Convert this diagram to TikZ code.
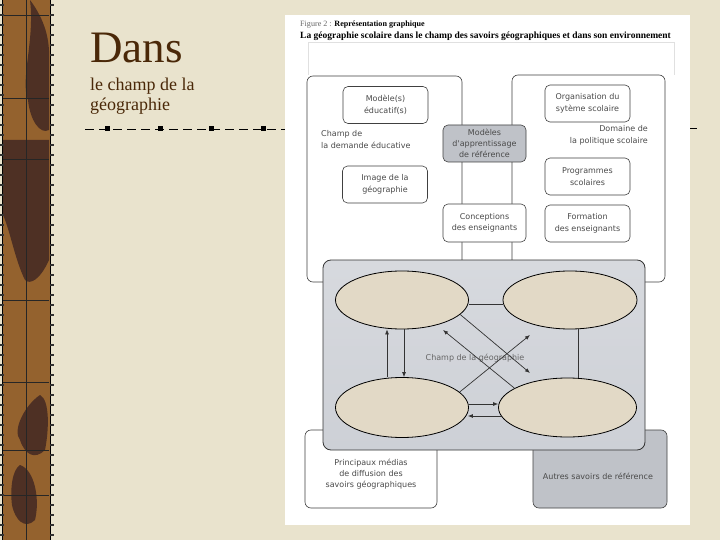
\documentclass[tikz,border=0pt]{standalone}
\usepackage{fontspec}
\setmainfont{Liberation Serif}
\newfontfamily\diagfont{DejaVu Sans}
\usetikzlibrary{calc,arrows.meta,shapes.geometric}
\definecolor{paper}{HTML}{E9E3CD}
\definecolor{stripbrown}{HTML}{94622E}
\definecolor{stripdark}{HTML}{4E3024}
\definecolor{titlebrown}{HTML}{4A2808}
\definecolor{ellfill}{HTML}{E2D9C6}
\definecolor{midgray}{HTML}{CDD0D6}
\definecolor{boxgray}{HTML}{BFC2C8}
\definecolor{txtgray}{HTML}{4A4A4A}
\tikzset{
  bigbox/.style={draw=black!75, line width=0.6pt, fill=white, rounded corners=6pt},
  smallbox/.style={draw=black!75, line width=0.6pt, fill=white, rounded corners=5pt,
    minimum width=85pt, minimum height=37pt, inner sep=1pt, align=center,
    font=\diagfont\fontsize{8}{11.5}\selectfont, text=txtgray},
  graybox/.style={smallbox, fill=boxgray},
  lbl/.style={font=\diagfont\fontsize{8}{12}\selectfont, text=txtgray, inner sep=0pt},
  ell/.style={draw=black, line width=0.8pt, fill=ellfill, ellipse, inner sep=0pt},
  con/.style={draw=black!80, line width=0.7pt},
  arr/.style={con, -{Latex[length=5pt,width=4pt]}},
}
\begin{document}
\begin{tikzpicture}[x=1pt,y=-1pt]
\useasboundingbox (0,0) rectangle (720,540);
\fill[paper] (0,0) rectangle (720,540);
% decorative strip
\fill[stripbrown] (2,0) rectangle (50,540);
\fill[stripdark] (30,0) .. controls (45,20) and (50,40) .. (49,60) -- (49,130)
  .. controls (40,135) and (30,120) .. (28,100) .. controls (20,80) and (35,40) .. (30,0) -- cycle;
\fill[stripdark] (3,140) -- (49,140) -- (49,260) .. controls (40,280) and (30,285) .. (25,280)
  .. controls (15,260) and (10,230) .. (3,215) -- cycle;
\fill[stripdark] (40,395) .. controls (50,400) and (49,430) .. (45,450)
  .. controls (35,460) and (25,455) .. (20,440) .. controls (12,430) and (25,405) .. (40,395) -- cycle;
\fill[stripdark] (20,465) .. controls (35,470) and (40,500) .. (35,520)
  .. controls (25,530) and (15,520) .. (12,505) .. controls (10,490) and (12,470) .. (20,465) -- cycle;
\draw[black!85, line width=0.7pt] (26,0) -- (26,540);
\foreach \yy in {15,98,159,300,382,450,495}
  \draw[black!85, line width=0.7pt] (3,\yy) -- (49,\yy);
\draw[black, line width=1.6pt] (50.5,0) -- (50.5,540);
\draw[black, line width=1pt] (2,0) -- (2,540);
\foreach \yy in {4,14,...,534} {
  \fill[black!80] (0,\yy) rectangle (4,\yy+2);
  \fill[black!80] (50,\yy) rectangle (54,\yy+2);
}
% titles
\node[anchor=base west, inner sep=0pt, text=titlebrown, font=\fontsize{45}{45}\selectfont] (t1) at (90,63) {Dans};
\node[anchor=base west, inner sep=0pt, text=titlebrown, font=\fontsize{18}{18}\selectfont] (t2) at (90,91) {le champ de la};
\node[anchor=base west, inner sep=0pt, text=titlebrown, font=\fontsize{18}{18}\selectfont] (t3) at (90,111) {géographie};
\draw[black, line width=0.8pt, dash pattern=on 9pt off 5pt] (85,129) -- (290,129);
\foreach \xx in {107,160,211,263}
  \fill[black] (\xx-2.5,126.5) rectangle (\xx+2.5,131.5);
\draw[black, line width=0.8pt] (688,128) -- (697,128);
% white panel
\fill[white] (285,15) rectangle (690,525);
\draw[black!12, line width=0.5pt] (308,75) -- (308,42) -- (674,42) -- (674,75);
% caption
\node[anchor=base west, inner sep=0pt, font=\fontsize{8.1}{9}\selectfont] (cap1) at (300,27)
  {\textcolor{black!60}{Figure 2 :} \textbf{Représentation graphique}};
\node[anchor=base west, inner sep=0pt, font=\fontsize{9.5}{10}\selectfont\bfseries] (cap2) at (300,39)
  {La géographie scolaire dans le champ des savoirs géographiques et dans son environnement};
% big boxes
\draw[bigbox] (307,76) rectangle (462,282);
\draw[bigbox] (512,75) rectangle (665,282);
\node[lbl, anchor=north west, align=left] (champdem) at (321,130) {Champ de\\la demande éducative};
\node[lbl, anchor=north east, align=right] (domaine) at (648,125) {Domaine de\\la politique scolaire};
% small boxes
\node[smallbox] (mod) at (385.5,105) {Modèle(s)\\éducatif(s)};
\node[smallbox] (img) at (385,184.5) {Image de la\\géographie};
\node[graybox, minimum width=83pt, font=\diagfont\fontsize{8}{11}\selectfont] (mar) at (484.5,143.5) {Modèles\\d'apprentissage\\de référence};
\node[smallbox, minimum width=83pt, minimum height=38pt] (conc) at (484.5,223) {Conceptions\\des enseignants};
\node[smallbox] (org) at (587.5,103.5) {Organisation du\\sytème scolaire};
\node[smallbox] (prog) at (587.5,176.5) {Programmes\\scolaires};
\node[smallbox] (form) at (587.5,223.5) {Formation\\des enseignants};
% bottom boxes
\draw[bigbox] (305,430) rectangle (437,508);
\draw[bigbox, fill=boxgray] (533,430) rectangle (667,508);
\node[lbl, align=center, font=\diagfont\fontsize{8}{11}\selectfont] (med) at (371,474) {Principaux médias\\de diffusion des\\savoirs géographiques};
\node[lbl] (aut) at (598,476) {Autres savoirs de référence};
% middle box
\draw[draw=black!80, line width=0.8pt, rounded corners=8pt, top color=midgray!80, bottom color=midgray] (323,260) rectangle (645,450);
% ellipses
\node[ell, minimum width=133pt, minimum height=58pt] (tl) at (402,300) {};
\node[ell, minimum width=134pt, minimum height=58pt] (tr) at (570,300) {};
\node[ell, minimum width=133pt, minimum height=60pt] (bl) at (402,407.5) {};
\node[ell, minimum width=138pt, minimum height=59pt] (br) at (567.5,407.5) {};
\node[lbl, text=black!60] (geo) at (475,358) {Champ de la géographie};
\coordinate (d1e) at (530,373);
\coordinate (d2e) at (443,330);
\coordinate (d3e) at (530,335);
\coordinate (h1s) at ($(tl.east)+(0,4)$);
\coordinate (v1s) at ($(bl.north)+(-15,0)$);
\coordinate (v1e) at ($(tl.south)+(-15,0)$);
\coordinate (v2s) at ($(tl.south)+(2,0)$);
\coordinate (v2e) at ($(bl.north)+(2,0)$);
\coordinate (v3s) at ($(tr.south)+(8,0)$);
\coordinate (b1s) at ($(bl.east)+(0,-3.5)$);
\coordinate (b2s) at ($(br.west)+(3,8.5)$);
\coordinate (b2e) at ($(bl.east)+(-1,8.5)$);
% connectors
\draw[con] (h1s) -- (h1s -| tr.west);
\draw[arr] (v1s) -- (v1e);
\draw[arr] (v2s) -- (v2e);
\draw[con] (v3s) -- (v3s |- br.north);
\draw[arr] (tl.-14) -- (d1e);
\draw[arr] (br.160) -- (d2e);
\draw[arr] (bl.15) -- (d3e);
\draw[arr] (b1s) -- (b1s -| br.west);
\draw[arr] (b2s) -- (b2e);
\end{tikzpicture}
\end{document}
